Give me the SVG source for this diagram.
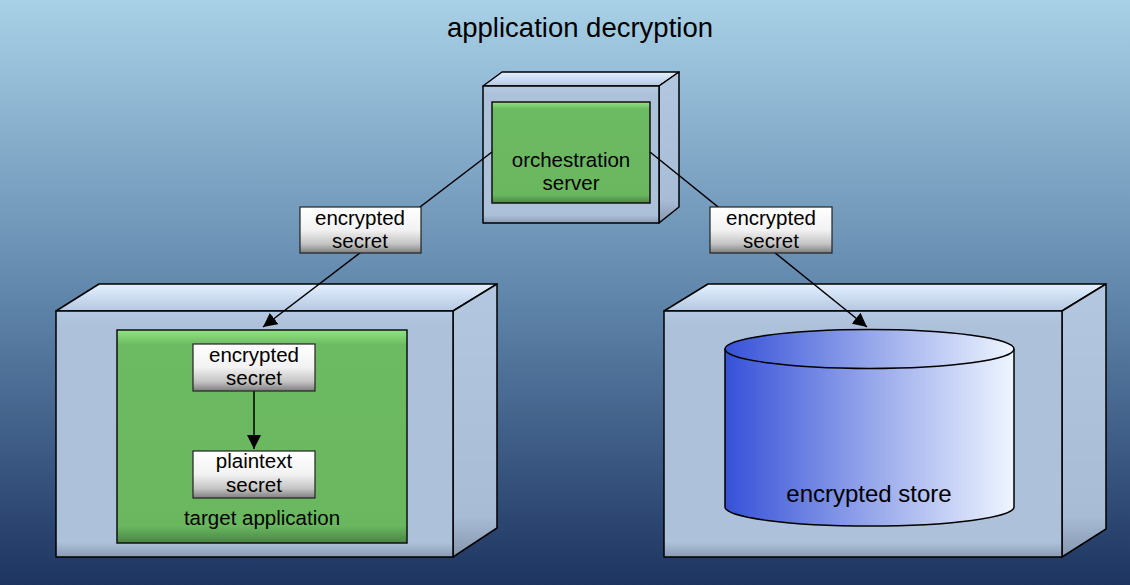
<svg xmlns="http://www.w3.org/2000/svg" width="1130" height="585" viewBox="0 0 1130 585">
<defs>
<linearGradient id="bg" x1="0" y1="0" x2="0" y2="1">
<stop offset="0" stop-color="#a8d1e7"/>
<stop offset="0.5" stop-color="#6187ac"/>
<stop offset="1" stop-color="#1d3461"/>
</linearGradient>
<linearGradient id="front" x1="0" y1="0" x2="0" y2="1">
<stop offset="0" stop-color="#b6c9e2"/>
<stop offset="0.06" stop-color="#adc1da"/>
<stop offset="0.94" stop-color="#adc1da"/>
<stop offset="1" stop-color="#8a9cb4"/>
</linearGradient>
<linearGradient id="top" x1="0" y1="0" x2="0" y2="1">
<stop offset="0" stop-color="#e4f0ff"/>
<stop offset="1" stop-color="#b4c8e1"/>
</linearGradient>
<linearGradient id="side" x1="0" y1="0" x2="0" y2="1">
<stop offset="0" stop-color="#b4c7e0"/>
<stop offset="0.85" stop-color="#a9bcd5"/>
<stop offset="1" stop-color="#8597af"/>
</linearGradient>
<linearGradient id="green" x1="0" y1="0" x2="0" y2="1">
<stop offset="0" stop-color="#90e581"/>
<stop offset="0.07" stop-color="#6cba62"/>
<stop offset="0.92" stop-color="#6ab760"/>
<stop offset="1" stop-color="#4a8444"/>
</linearGradient>
<linearGradient id="label" x1="0" y1="0" x2="0" y2="1">
<stop offset="0" stop-color="#ffffff"/>
<stop offset="0.5" stop-color="#f2f2f2"/>
<stop offset="0.8" stop-color="#c4c4c4"/>
<stop offset="1" stop-color="#7e7e7e"/>
</linearGradient>
<linearGradient id="cyl" x1="0" y1="0" x2="1" y2="0">
<stop offset="0" stop-color="#3651d8"/>
<stop offset="0.5" stop-color="#95a6ea"/>
<stop offset="1" stop-color="#eef5ff"/>
</linearGradient>
<marker id="arr" viewBox="0 0 14 14" refX="14" refY="7" markerWidth="14" markerHeight="14" markerUnits="userSpaceOnUse" orient="auto">
<path d="M0,0 L14,7 L0,14 z" fill="#000"/>
</marker>
</defs>
<style>
.edge{stroke:#000;stroke-width:1.5;fill:none}
.face{stroke:#000;stroke-width:1.5;stroke-linejoin:round}
.gbox{fill:url(#green);stroke:#111;stroke-width:1.5}
.lbl{fill:url(#label);stroke:#222;stroke-width:1.2}
text{font-family:"Liberation Sans",Arial,Helvetica,sans-serif;fill:#000;text-anchor:middle}
.t{font-size:20.5px}
</style>
<rect x="0" y="0" width="1130" height="585" fill="url(#bg)"/>
<text x="580" y="37" style="font-size:27.5px">application decryption</text>

<g id="orchestration-server">
<polygon class="face" points="483,86 502,72 679,72 659,86" fill="url(#top)"/>
<polygon class="face" points="659,86 679,72 679,207 659,223" fill="url(#side)"/>
<rect class="face" x="483" y="86" width="176" height="137" fill="url(#front)"/>
<rect class="gbox" x="492" y="102" width="158" height="101"/>
<text class="t" x="571" y="167">orchestration</text>
<text class="t" x="571" y="190">server</text>
</g>

<g id="target-host">
<polygon class="face" points="56,311 99,284 497,284 453,311" fill="url(#top)"/>
<polygon class="face" points="453,311 497,284 497,528 453,557" fill="url(#side)"/>
<rect class="face" x="56" y="311" width="397" height="246" fill="url(#front)"/>
</g>

<g id="target-application">
<rect class="gbox" x="117" y="330" width="290" height="213"/>
<text class="t" x="262" y="525">target application</text>
</g>

<g id="store-host">
<polygon class="face" points="664,311 708,284 1106,284 1062,311" fill="url(#top)"/>
<polygon class="face" points="1062,311 1106,284 1106,529 1062,557" fill="url(#side)"/>
<rect class="face" x="664" y="311" width="398" height="246" fill="url(#front)"/>
</g>

<g id="encrypted-store">
<path d="M725,349 L725,507 A144.5,19 0 0 0 1014,507 L1014,349" fill="url(#cyl)" stroke="#000" stroke-width="1.5"/>
<ellipse cx="869.5" cy="349" rx="144.5" ry="19.5" fill="url(#cyl)" stroke="#000" stroke-width="1.5"/>
<text x="869" y="502" style="font-size:24px">encrypted store</text>
</g>

<g id="connectors">
<line class="edge" x1="492" y1="152" x2="263" y2="327" marker-end="url(#arr)"/>
<line class="edge" x1="650" y1="152" x2="867" y2="327" marker-end="url(#arr)"/>
<line class="edge" x1="254" y1="391" x2="254" y2="449" marker-end="url(#arr)"/>
</g>

<g id="label-left">
<rect class="lbl" x="300" y="207" width="121" height="46"/>
<text class="t" x="360" y="225">encrypted</text>
<text class="t" x="360" y="248">secret</text>
</g>

<g id="label-right">
<rect class="lbl" x="710" y="207" width="122" height="46"/>
<text class="t" x="771" y="225">encrypted</text>
<text class="t" x="771" y="248">secret</text>
</g>

<g id="encrypted-secret">
<rect class="lbl" x="193" y="344" width="122" height="47"/>
<text class="t" x="254" y="362">encrypted</text>
<text class="t" x="254" y="385">secret</text>
</g>

<g id="plaintext-secret">
<rect class="lbl" x="193" y="451" width="122" height="47"/>
<text class="t" x="254" y="468">plaintext</text>
<text class="t" x="254" y="492">secret</text>
</g>
</svg>
